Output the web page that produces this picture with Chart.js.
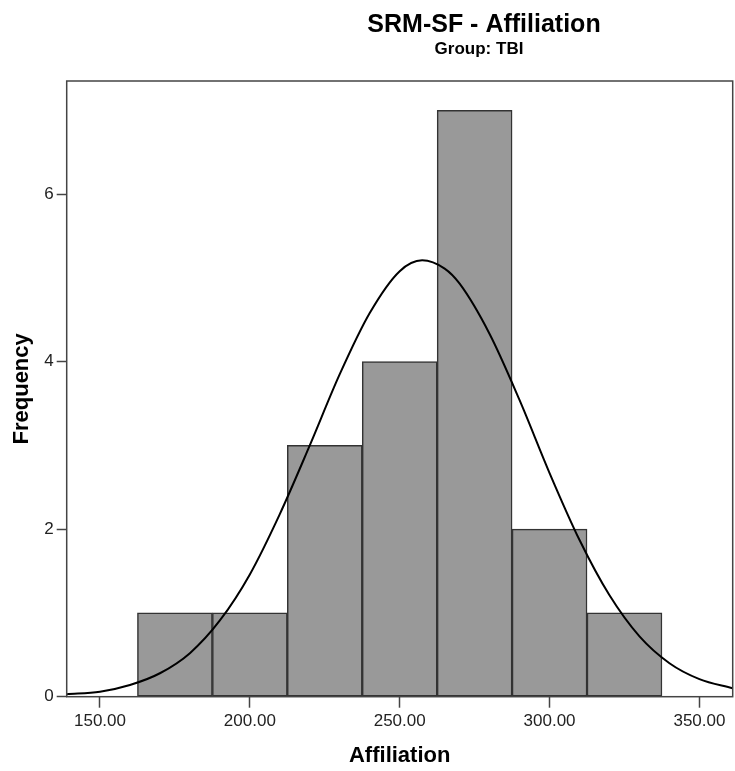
<!DOCTYPE html>
<html>
<head>
<meta charset="utf-8">
<title>SRM-SF - Affiliation</title>
<script src="https://cdn.jsdelivr.net/npm/chart.js@4.4.1/dist/chart.umd.min.js"></script>
<style>
    html, body { margin: 0; padding: 0; background: #ffffff; }
    #wrap { width: 735px; height: 771px; }
</style>
</head>
<body>
<div id="wrap"><canvas id="histChart"></canvas></div>
<script>
// histogram bins (centres, width 25) and their counts
const binCenters = [175, 200, 225, 250, 275, 300, 325];
const binCounts = [1, 1, 3, 4, 7, 2, 1];

// fitted normal curve
const curveX = [138.9, 150, 160, 170, 180, 190, 200, 210, 220, 230, 240, 250, 257.5, 265,
                270, 280, 290, 300, 310, 320, 330, 340, 350, 361.1];
const curveY = [0.03, 0.06, 0.14, 0.28, 0.52, 0.91, 1.46, 2.18, 3.0, 3.85, 4.58, 5.08, 5.21, 5.11,
                4.93, 4.33, 3.54, 2.67, 1.87, 1.21, 0.72, 0.4, 0.21, 0.1];

const xTicks = [150, 200, 250, 300, 350];
const yTicks = [0, 2, 4, 6];

const FONT = "'Liberation Sans', Arial, sans-serif";
const AXIS = '#444444';

// titles sit to the right of centre, and the plot gets a full box
const framePlugin = {
    id: 'frame',
    afterDraw(chart) {
        const ctx = chart.ctx;
        const a = chart.chartArea;
        ctx.save();
        ctx.strokeStyle = AXIS;
        ctx.lineWidth = 1.5;
        ctx.strokeRect(a.left, a.top, a.right - a.left, a.bottom - a.top);

        ctx.fillStyle = '#000000';
        ctx.textAlign = 'center';
        ctx.textBaseline = 'alphabetic';
        ctx.font = 'bold 25px ' + FONT;
        ctx.fillText('SRM-SF - Affiliation', 484, 32);
        ctx.font = 'bold 17px ' + FONT;
        ctx.fillText('Group: TBI', 479, 54);
        ctx.restore();
    }
};

const ctx = document.getElementById('histChart').getContext('2d');
new Chart(ctx, {
    type: 'bar',
    data: {
        datasets: [{
            type: 'line',
            data: curveX.map((x, i) => ({ x: x, y: curveY[i] })),
            borderColor: '#000000',
            borderWidth: 2,
            pointRadius: 0,
            fill: false,
            cubicInterpolationMode: 'monotone',
            order: 0
        }, {
            type: 'bar',
            data: binCenters.map((x, i) => ({ x: x, y: binCounts[i] })),
            backgroundColor: '#999999',
            borderColor: '#333333',
            borderWidth: 1.5,
            borderSkipped: false,
            barPercentage: 1,
            categoryPercentage: 1,
            order: 1
        }]
    },
    options: {
        responsive: true,
        maintainAspectRatio: false,
        animation: false,
        layout: {
            padding: { left: 0, right: 2.3, top: 81, bottom: 0 }
        },
        plugins: {
            legend: { display: false },
            tooltip: { enabled: false }
        },
        scales: {
            x: {
                type: 'linear',
                min: 138.9,
                max: 361.1,
                offset: false,
                afterBuildTicks: function (scale) {
                    scale.ticks = xTicks.map(v => ({ value: v }));
                },
                afterFit: function (scale) {
                    scale.height = 74.3;
                },
                grid: {
                    offset: false,
                    drawOnChartArea: false,
                    drawTicks: true,
                    tickLength: 11,
                    tickWidth: 1.5,
                    color: AXIS
                },
                border: { display: false },
                ticks: {
                    autoSkip: false,
                    maxRotation: 0,
                    padding: 3,
                    color: '#222222',
                    font: { family: FONT, size: 17 },
                    callback: v => Number(v).toFixed(2)
                },
                title: {
                    display: true,
                    text: 'Affiliation',
                    color: '#000000',
                    font: { family: FONT, size: 22, weight: 'bold' },
                    padding: { top: 0, bottom: 2 }
                }
            },
            y: {
                min: 0,
                max: 7.35,
                afterBuildTicks: function (scale) {
                    scale.ticks = yTicks.map(v => ({ value: v }));
                },
                afterFit: function (scale) {
                    scale.width = 66.7;
                },
                grid: {
                    drawOnChartArea: false,
                    drawTicks: true,
                    tickLength: 10,
                    tickWidth: 1.5,
                    color: AXIS
                },
                border: { display: false },
                ticks: {
                    padding: 3,
                    color: '#222222',
                    font: { family: FONT, size: 17 }
                },
                title: {
                    display: true,
                    text: 'Frequency',
                    color: '#000000',
                    font: { family: FONT, size: 22, weight: 'bold' },
                    padding: { top: 9, bottom: 0 }
                }
            }
        }
    },
    plugins: [framePlugin]
});
</script>
</body>
</html>
